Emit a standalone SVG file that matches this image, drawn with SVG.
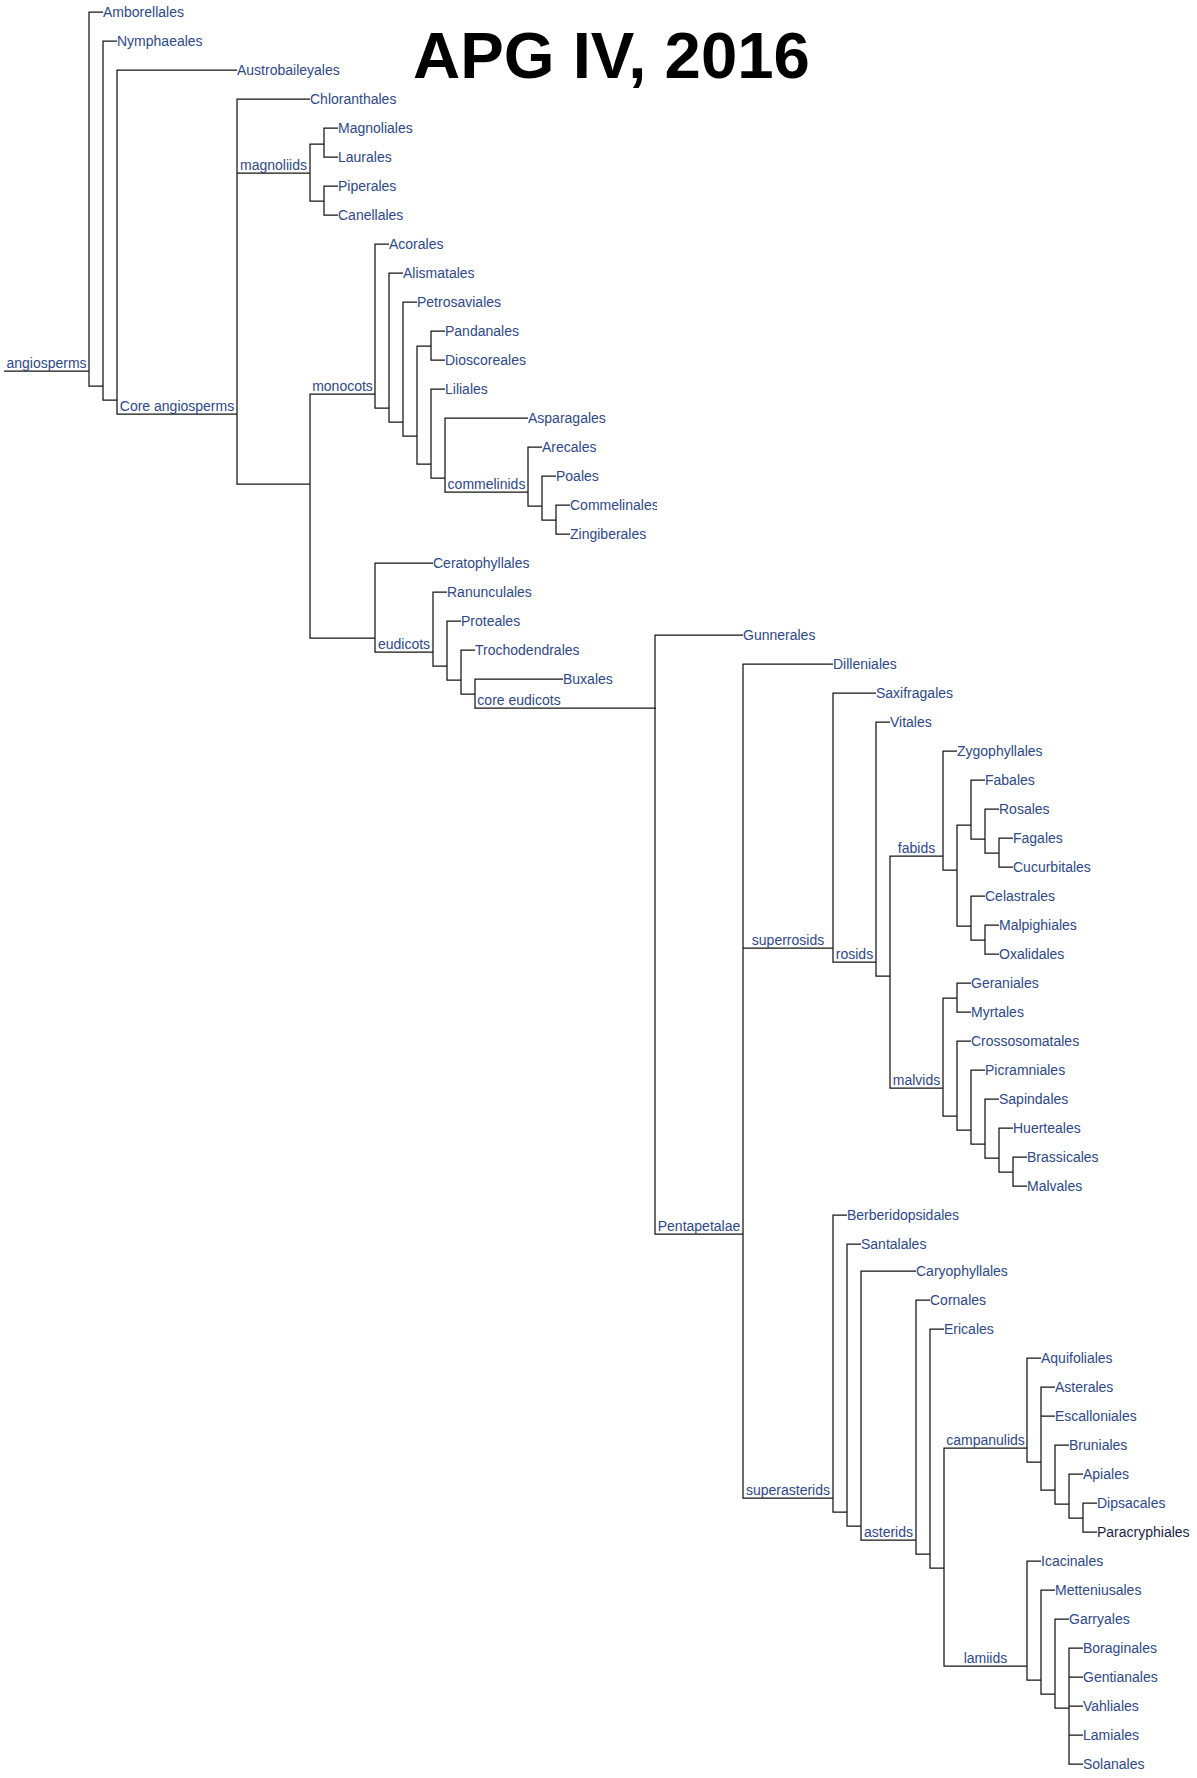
<svg xmlns="http://www.w3.org/2000/svg" width="1197" height="1778" viewBox="0 0 1197 1778">
<defs>
<style>
.c{fill:none;stroke:#151515;stroke-width:1.25}
text{font-family:"Liberation Sans",Arial,sans-serif;font-size:14px;fill:#2e4888}
.lab{text-anchor:middle}
.title{font-size:65.3px;font-weight:bold;fill:#000}
</style>
<clipPath id="clipC"><rect x="560" y="490" width="97" height="25"/></clipPath>
</defs>
<rect width="1197" height="1778" fill="#fff"/>
<text class="title" x="413" y="78">APG IV, 2016</text>
<g id="connectors">
<path class="c" d="M4 371H89M103 12H89V386H103M117 41H103V400H117M237 70H117V414H237"/>
<path class="c" d="M310 99H237V484H310M237 173H310M324 144H310V201H324M338 128H324V157H338M338 186H324V215H338"/>
<path class="c" d="M375 394H310V638H375"/>
<path class="c" d="M389 244H375V408H389M403 273H389V422H403M417 302H403V436H417M431 346H417V464H431M445 331H431V360H445M445 389H431V478H445M528 418H445V492H528M542 447H528V506H542M556 476H542V520H556M570 505H556V534H570"/>
<path class="c" d="M433 563H375V652H433M447 592H433V666H447M461 621H447V680H461M475 650H461V694H475M563 679H475V708H656"/>
<path class="c" d="M743 635H655V1234H743M833 664H743V1498H833M743 948H833M876 693H833V962H876M890 722H876V976H890M943 856H890V1088H943"/>
<path class="c" d="M957 751H943V870H957M971 825H957V926H971M985 780H971V839H985M999 809H985V853H999M1013 838H999V867H1013M985 896H971V940H985M999 925H985V954H999"/>
<path class="c" d="M957 998H943V1116H957M971 983H957V1012H971M971 1041H957V1130H971M985 1070H971V1144H985M999 1099H985V1158H999M1013 1128H999V1172H1013M1027 1157H1013V1186H1027"/>
<path class="c" d="M847 1215H833V1512H847M861 1244H847V1526H861M916 1271H861V1540H916M930 1300H916V1554H930M944 1329H930V1568H944M1027 1448H944V1666H1027"/>
<path class="c" d="M1041 1358H1027V1462H1041M1055 1387H1041V1490H1055M1041 1416H1055M1069 1445H1055V1504H1069M1083 1474H1069V1518H1083M1097 1503H1083V1532H1097"/>
<path class="c" d="M1041 1561H1027V1680H1041M1055 1590H1041V1694H1055M1069 1619H1055V1708H1069M1083 1648H1069V1764H1083M1069 1677H1083M1069 1706H1083M1069 1735H1083"/>
</g>
<g id="clade-labels">
<g id="n-angiosperms"><text class="lab" x="46.5" y="368">angiosperms</text></g>
<g id="n-core-angiosperms"><text class="lab" x="177" y="411">Core angiosperms</text></g>
<g id="n-magnoliids"><text class="lab" x="273.5" y="170">magnoliids</text></g>
<g id="n-monocots"><text class="lab" x="342.5" y="391">monocots</text></g>
<g id="n-eudicots"><text class="lab" x="404" y="649">eudicots</text></g>
<g id="n-commelinids"><text class="lab" x="486.5" y="489">commelinids</text></g>
<g id="n-core-eudicots"><text class="lab" x="519" y="705">core eudicots</text></g>
<g id="n-pentapetalae"><text class="lab" x="699" y="1231">Pentapetalae</text></g>
<g id="n-superrosids"><text class="lab" x="788" y="945">superrosids</text></g>
<g id="n-rosids"><text class="lab" x="854.5" y="959">rosids</text></g>
<g id="n-fabids"><text class="lab" x="916.5" y="853">fabids</text></g>
<g id="n-malvids"><text class="lab" x="916.5" y="1085">malvids</text></g>
<g id="n-superasterids"><text class="lab" x="788" y="1495">superasterids</text></g>
<g id="n-asterids"><text class="lab" x="888.5" y="1537">asterids</text></g>
<g id="n-campanulids"><text class="lab" x="985.5" y="1445">campanulids</text></g>
<g id="n-lamiids"><text class="lab" x="985.5" y="1663">lamiids</text></g>
</g>
<g id="leaves">
<g id="l-amborellales"><text x="103" y="17">Amborellales</text></g>
<g id="l-nymphaeales"><text x="117" y="46">Nymphaeales</text></g>
<g id="l-austrobaileyales"><text x="237" y="75">Austrobaileyales</text></g>
<g id="l-chloranthales"><text x="310" y="104">Chloranthales</text></g>
<g id="l-magnoliales"><text x="338" y="133">Magnoliales</text></g>
<g id="l-laurales"><text x="338" y="162">Laurales</text></g>
<g id="l-piperales"><text x="338" y="191">Piperales</text></g>
<g id="l-canellales"><text x="338" y="220">Canellales</text></g>
<g id="l-acorales"><text x="389" y="249">Acorales</text></g>
<g id="l-alismatales"><text x="403" y="278">Alismatales</text></g>
<g id="l-petrosaviales"><text x="417" y="307">Petrosaviales</text></g>
<g id="l-pandanales"><text x="445" y="336">Pandanales</text></g>
<g id="l-dioscoreales"><text x="445" y="365">Dioscoreales</text></g>
<g id="l-liliales"><text x="445" y="394">Liliales</text></g>
<g id="l-asparagales"><text x="528" y="423">Asparagales</text></g>
<g id="l-arecales"><text x="542" y="452">Arecales</text></g>
<g id="l-poales"><text x="556" y="481">Poales</text></g>
<g id="l-commelinales"><text x="570" y="510" clip-path="url(#clipC)">Commelinales</text></g>
<g id="l-zingiberales"><text x="570" y="539">Zingiberales</text></g>
<g id="l-ceratophyllales"><text x="433" y="568">Ceratophyllales</text></g>
<g id="l-ranunculales"><text x="447" y="597">Ranunculales</text></g>
<g id="l-proteales"><text x="461" y="626">Proteales</text></g>
<g id="l-trochodendrales"><text x="475" y="655">Trochodendrales</text></g>
<g id="l-buxales"><text x="563" y="684">Buxales</text></g>
<g id="l-gunnerales"><text x="743" y="640">Gunnerales</text></g>
<g id="l-dilleniales"><text x="833" y="669">Dilleniales</text></g>
<g id="l-saxifragales"><text x="876" y="698">Saxifragales</text></g>
<g id="l-vitales"><text x="890" y="727">Vitales</text></g>
<g id="l-zygophyllales"><text x="957" y="756">Zygophyllales</text></g>
<g id="l-fabales"><text x="985" y="785">Fabales</text></g>
<g id="l-rosales"><text x="999" y="814">Rosales</text></g>
<g id="l-fagales"><text x="1013" y="843">Fagales</text></g>
<g id="l-cucurbitales"><text x="1013" y="872">Cucurbitales</text></g>
<g id="l-celastrales"><text x="985" y="901">Celastrales</text></g>
<g id="l-malpighiales"><text x="999" y="930">Malpighiales</text></g>
<g id="l-oxalidales"><text x="999" y="959">Oxalidales</text></g>
<g id="l-geraniales"><text x="971" y="988">Geraniales</text></g>
<g id="l-myrtales"><text x="971" y="1017">Myrtales</text></g>
<g id="l-crossosomatales"><text x="971" y="1046">Crossosomatales</text></g>
<g id="l-picramniales"><text x="985" y="1075">Picramniales</text></g>
<g id="l-sapindales"><text x="999" y="1104">Sapindales</text></g>
<g id="l-huerteales"><text x="1013" y="1133">Huerteales</text></g>
<g id="l-brassicales"><text x="1027" y="1162">Brassicales</text></g>
<g id="l-malvales"><text x="1027" y="1191">Malvales</text></g>
<g id="l-berberidopsidales"><text x="847" y="1220">Berberidopsidales</text></g>
<g id="l-santalales"><text x="861" y="1249">Santalales</text></g>
<g id="l-caryophyllales"><text x="916" y="1276">Caryophyllales</text></g>
<g id="l-cornales"><text x="930" y="1305">Cornales</text></g>
<g id="l-ericales"><text x="944" y="1334">Ericales</text></g>
<g id="l-aquifoliales"><text x="1041" y="1363">Aquifoliales</text></g>
<g id="l-asterales"><text x="1055" y="1392">Asterales</text></g>
<g id="l-escalloniales"><text x="1055" y="1421">Escalloniales</text></g>
<g id="l-bruniales"><text x="1069" y="1450">Bruniales</text></g>
<g id="l-apiales"><text x="1083" y="1479">Apiales</text></g>
<g id="l-dipsacales"><text x="1097" y="1508">Dipsacales</text></g>
<g id="l-paracryphiales"><text x="1097" y="1537" style="fill:#1c1c48">Paracryphiales</text></g>
<g id="l-icacinales"><text x="1041" y="1566">Icacinales</text></g>
<g id="l-metteniusales"><text x="1055" y="1595">Metteniusales</text></g>
<g id="l-garryales"><text x="1069" y="1624">Garryales</text></g>
<g id="l-boraginales"><text x="1083" y="1653">Boraginales</text></g>
<g id="l-gentianales"><text x="1083" y="1682">Gentianales</text></g>
<g id="l-vahliales"><text x="1083" y="1711">Vahliales</text></g>
<g id="l-lamiales"><text x="1083" y="1740">Lamiales</text></g>
<g id="l-solanales"><text x="1083" y="1769">Solanales</text></g>
</g>
</svg>
